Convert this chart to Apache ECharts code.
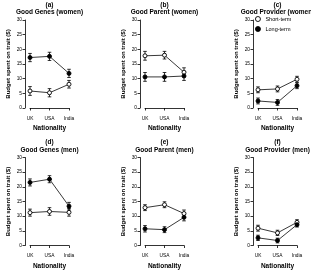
<!DOCTYPE html>
<html>
<head>
<meta charset="utf-8">
<script src="https://cdn.jsdelivr.net/npm/echarts@6/dist/echarts.min.js"></script>
<style>
  html, body { margin: 0; padding: 0; background: #fff; }
  #chart { width: 311px; height: 276px; }
</style>
</head>
<body>
<div id="chart"></div>
<script>
var categories = ['UK', 'USA', 'India']
var yTicks = [0, 5, 10, 15, 20, 25, 30]
var panelLetters = ['(a)', '(b)', '(c)', '(d)', '(e)', '(f)']
var panelNames = ['Good Genes (women)', 'Good Parent (women)', 'Good Provider (women)',
  'Good Genes (men)', 'Good Parent (men)', 'Good Provider (men)']

// means and error half-widths, one array per panel
var shortA = [5.8, 5.2, 8.1],  shortErrA = [1.5, 1.4, 1.3]
var longA = [17.2, 17.6, 11.8], longErrA = [1.4, 1.4, 1.4]
var shortB = [17.8, 18.0, 12.2], shortErrB = [1.5, 1.3, 1.5]
var longB = [10.6, 10.6, 10.9], longErrB = [1.5, 1.5, 1.5]
var shortC = [6.2, 6.5, 9.8],  shortErrC = [1.0, 1.0, 1.0]
var longC = [2.4, 1.9, 7.6],   longErrC = [1.0, 1.0, 1.0]
var shortD = [11.2, 11.6, 11.3], shortErrD = [1.2, 1.3, 1.3]
var longD = [21.5, 22.6, 13.4], longErrD = [1.2, 1.2, 1.3]
var shortE = [12.9, 13.9, 10.9], shortErrE = [1.0, 1.0, 1.2]
var longE = [5.7, 5.4, 9.6],   longErrE = [1.1, 1.0, 1.2]
var shortF = [5.9, 4.3, 7.9],  shortErrF = [1.0, 0.9, 0.9]
var longF = [2.6, 1.7, 7.1],   longErrF = [0.9, 0.8, 0.8]

var shortAll = [shortA, shortB, shortC, shortD, shortE, shortF]
var shortErrAll = [shortErrA, shortErrB, shortErrC, shortErrD, shortErrE, shortErrF]
var longAll = [longA, longB, longC, longD, longE, longF]
var longErrAll = [longErrA, longErrB, longErrC, longErrD, longErrE, longErrF]

var font = 'Liberation Sans'
var colLeft = [30, 145, 258]
var rowTop = [20, 157.5]
var gridW = 39
var gridH = 88

function errorBars(means, errs, gi) {
  return {
    type: 'custom',
    xAxisIndex: gi,
    yAxisIndex: gi,
    z: 1,
    silent: true,
    data: means.map(function (m, i) { return [i, m - errs[i], m + errs[i]] }),
    renderItem: function (params, api) {
      var lo = api.coord([api.value(0), api.value(1)])
      var hi = api.coord([api.value(0), api.value(2)])
      var w = 1.8
      var st = { stroke: '#000', lineWidth: 0.8 }
      return {
        type: 'group',
        children: [
          { type: 'line', shape: { x1: lo[0], y1: lo[1], x2: hi[0], y2: hi[1] }, style: st },
          { type: 'line', shape: { x1: lo[0] - w, y1: lo[1], x2: lo[0] + w, y2: lo[1] }, style: st },
          { type: 'line', shape: { x1: hi[0] - w, y1: hi[1], x2: hi[0] + w, y2: hi[1] }, style: st }
        ]
      }
    }
  }
}

function init() {
  var chart = echarts.init(document.getElementById('chart'))
  var grids = [], xAxes = [], yAxes = [], titles = [], series = []

  for (var p = 0; p < 6; p++) {
    var col = p % 3, row = Math.floor(p / 3)
    var gLeft = colLeft[col], gTop = rowTop[row]
    grids.push({ left: gLeft, top: gTop, width: gridW, height: gridH })
    titles.push({
      text: panelLetters[p] + '\n' + panelNames[p],
      left: gLeft + gridW / 2, top: gTop - 19, textAlign: 'center',
      padding: 0, itemGap: 0,
      textStyle: { fontFamily: font, fontSize: 6.5, fontWeight: 'bold', color: '#000', lineHeight: 7.5 }
    })
    xAxes.push({
      gridIndex: p,
      type: 'category',
      data: categories,
      boundaryGap: false,
      offset: 5,
      name: 'Nationality',
      nameLocation: 'middle',
      nameGap: 12,
      nameTextStyle: { fontFamily: font, fontSize: 6.5, fontWeight: 'bold', color: '#000' },
      axisLine: { lineStyle: { color: '#000', width: 0.8 } },
      axisTick: { length: 2.5, alignWithLabel: true, lineStyle: { color: '#000', width: 0.8 } },
      axisLabel: { fontFamily: font, fontSize: 4.8, color: '#000', margin: 3, interval: 0 },
      splitLine: { show: false }
    })
    yAxes.push({
      gridIndex: p,
      type: 'value',
      min: yTicks[0],
      max: yTicks[yTicks.length - 1],
      interval: yTicks[1] - yTicks[0],
      offset: 5,
      name: 'Budget spent on trait ($)',
      nameLocation: 'middle',
      nameGap: 14,
      nameTextStyle: { fontFamily: font, fontSize: 6, fontWeight: 'bold', color: '#000' },
      axisLine: { show: true, lineStyle: { color: '#000', width: 0.8 } },
      axisTick: { show: true, length: 2.5, lineStyle: { color: '#000', width: 0.8 } },
      axisLabel: { fontFamily: font, fontSize: 4.8, color: '#000', margin: 3 },
      splitLine: { show: false }
    })
    series.push(errorBars(shortAll[p], shortErrAll[p], p))
    series.push(errorBars(longAll[p], longErrAll[p], p))
    series.push({
      name: 'Short-term',
      type: 'line',
      xAxisIndex: p, yAxisIndex: p,
      data: shortAll[p],
      symbol: 'circle', symbolSize: 4,
      z: 3,
      lineStyle: { color: '#222', width: 0.9 },
      itemStyle: { color: '#fff', borderColor: '#000', borderWidth: 0.9 }
    })
    series.push({
      name: 'Long-term',
      type: 'line',
      xAxisIndex: p, yAxisIndex: p,
      data: longAll[p],
      symbol: 'circle', symbolSize: 4,
      z: 3,
      lineStyle: { color: '#222', width: 0.9 },
      itemStyle: { color: '#000', borderColor: '#000', borderWidth: 0.9 }
    })
  }

  var option = {
    animation: false,
    backgroundColor: '#fff',
    title: titles,
    legend: {
      orient: 'vertical',
      left: 255, top: 16,
      itemWidth: 5, itemHeight: 5, itemGap: 4,
      icon: 'circle',
      padding: 0,
      textStyle: { fontFamily: font, fontSize: 5.5, color: '#000' },
      data: [
        { name: 'Short-term', itemStyle: { color: '#fff', borderColor: '#000', borderWidth: 0.9 } },
        { name: 'Long-term', itemStyle: { color: '#000', borderColor: '#000', borderWidth: 0.9 } }
      ]
    },
    grid: grids,
    xAxis: xAxes,
    yAxis: yAxes,
    series: series
  }

  option && chart.setOption(option)
}
init()
</script>
</body>
</html>
